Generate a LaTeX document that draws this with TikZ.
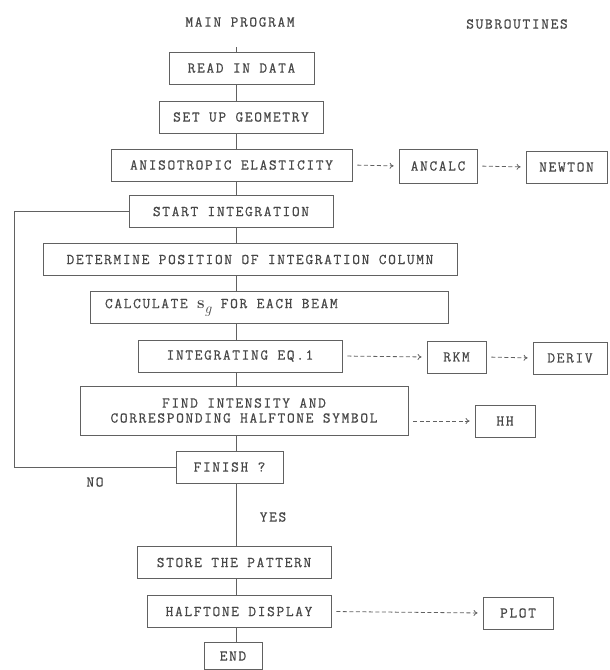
\documentclass[tikz,border=0pt]{standalone}
\usepackage{fontspec}
\setmonofont{Latin Modern Mono}[LetterSpace=11.0, FakeBold=0.6]
\usetikzlibrary{arrows.meta}
\definecolor{ink}{gray}{0.28}
\definecolor{frame}{gray}{0.38}
\tikzset{
  every node/.style={font=\fontsize{15}{15}\selectfont\ttfamily, text=ink},
  stepbox/.style={draw=frame, line width=0.8pt, minimum height=32pt, inner sep=0pt},
  trunkline/.style={draw=frame, line width=0.8pt},
  calllink/.style={draw=frame, line width=0.8pt, dash pattern=on 4pt off 2.5pt,
    -{To[length=4pt,width=6pt]}, shorten <=5pt, shorten >=5pt},
  plaintext/.style={inner sep=0pt}
}
\newcommand{\sgsym}{{\fontsize{17}{15}\selectfont\rmfamily\bfseries s}\raisebox{-5pt}{\fontsize{15}{15}\selectfont\rmfamily\itshape g}}
\begin{document}
\begin{tikzpicture}[x=1pt,y=-1pt]
\useasboundingbox (0,0) rectangle (610,670);
% headings
\node[plaintext] (hmain) at (240,22) {MAIN PROGRAM};
\node[plaintext] (hsub) at (517,24) {SUBROUTINES};
% main column
\coordinate (topc) at (236,47);
\coordinate (trunk) at (236,0);
\coordinate (loopx) at (14,0);
\node[stepbox, minimum width=145pt] (read) at (241.5,68) {READ IN DATA};
\node[stepbox, minimum width=164pt] (setup) at (241,117) {SET UP GEOMETRY};
\node[stepbox, minimum width=241pt] (aniso) at (231.5,165) {ANISOTROPIC ELASTICITY};
\node[stepbox, minimum width=204pt] (start) at (231,211.5) {START INTEGRATION};
\node[stepbox, minimum width=414pt] (determ) at (250,259.5) {DETERMINE POSITION OF INTEGRATION COLUMN};
\node[stepbox, minimum width=358pt] (calc) at (269,307.5) {\makebox[328pt][l]{CALCULATE \sgsym{} FOR EACH BEAM}};
\node[stepbox, minimum width=204pt] (integ) at (240,356) {INTEGRATING EQ.1};
\node[stepbox, minimum width=328pt, minimum height=49pt, align=center] (find) at (244,410.5) {FIND INTENSITY AND\\CORRESPONDING HALFTONE SYMBOL};
\node[stepbox, minimum width=107pt] (finish) at (229.5,467) {FINISH ?};
\node[plaintext] (no) at (95,482) {NO};
\node[plaintext] (yes) at (273,517) {YES};
\node[stepbox, minimum width=194pt] (store) at (234,562.5) {STORE THE PATTERN};
\node[stepbox, minimum width=184pt] (halftone) at (239,611.5) {HALFTONE DISPLAY};
\node[stepbox, minimum width=58pt, minimum height=27pt] (endb) at (233,656) {END};
% subroutines
\node[stepbox, minimum width=78pt, minimum height=34pt] (ancalc) at (438,166) {ANCALC};
\node[stepbox, minimum width=81pt] (newton) at (566.5,167) {NEWTON};
\node[stepbox, minimum width=59pt] (rkm) at (456.5,357) {RKM};
\node[stepbox, minimum width=74pt] (deriv) at (570,358) {DERIV};
\node[stepbox, minimum width=60pt] (hh) at (505,421) {HH};
\node[stepbox, minimum width=70pt] (plot) at (518,613) {PLOT};
% trunk connectors
\path[trunkline] (topc) -- (read.north -| trunk);
\path[trunkline] (read.south -| trunk) -- (setup.north -| trunk);
\path[trunkline] (setup.south -| trunk) -- (aniso.north -| trunk);
\path[trunkline] (aniso.south -| trunk) -- (start.north -| trunk);
\path[trunkline] (start.south -| trunk) -- (determ.north -| trunk);
\path[trunkline] (determ.south -| trunk) -- (calc.north -| trunk);
\path[trunkline] (calc.south -| trunk) -- (integ.north -| trunk);
\path[trunkline] (integ.south -| trunk) -- (find.north -| trunk);
\path[trunkline] (find.south -| trunk) -- (finish.north -| trunk);
\path[trunkline] (finish.south -| trunk) -- (store.north -| trunk);
\path[trunkline] (store.south -| trunk) -- (halftone.north -| trunk);
\path[trunkline] (halftone.south -| trunk) -- (endb.north -| trunk);
% loop back
\path[trunkline] (finish.west) -- (finish.west -| loopx) -- (start.west -| loopx) -- (start.west);
% subroutine calls
\path[calllink] (aniso.east) -- (ancalc.west);
\path[calllink] (ancalc.east) -- (newton.west);
\path[calllink] (integ.east) -- (rkm.west);
\path[calllink] (rkm.east) -- (deriv.west);
\path[calllink] (find.east |- hh.west) -- (hh.west);
\path[calllink] (halftone.east) -- (plot.west);
\end{tikzpicture}
\end{document}
